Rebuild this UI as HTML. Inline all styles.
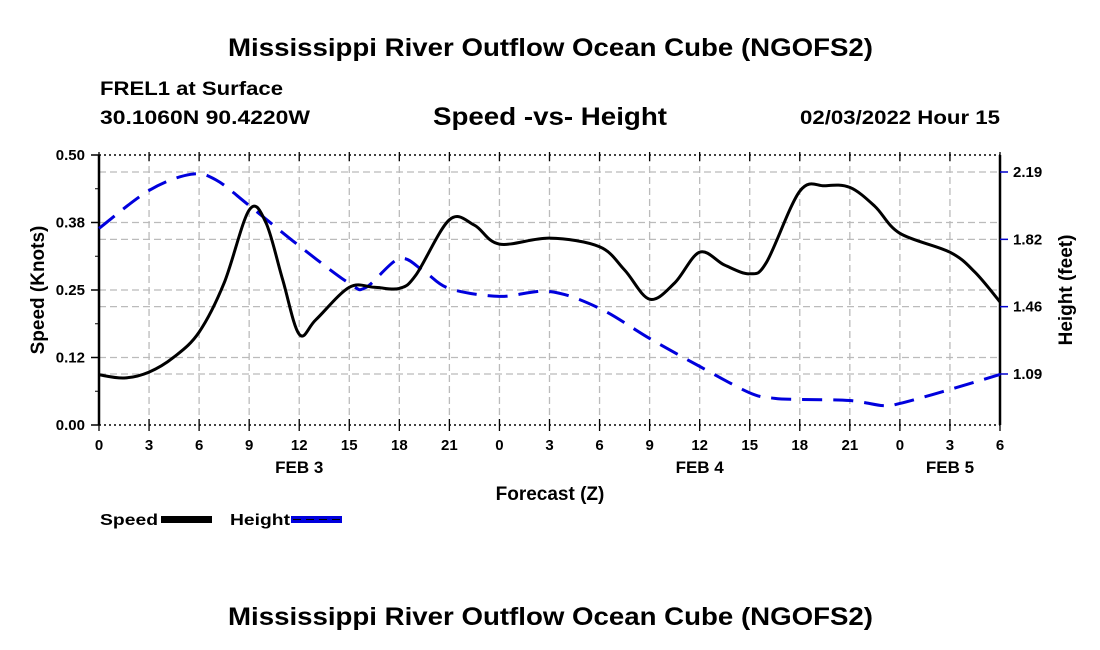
<!DOCTYPE html>
<html><head><meta charset="utf-8"><style>
html,body{margin:0;padding:0;background:#fff;width:1100px;height:650px;overflow:hidden}
svg text{font-family:"Liberation Sans",sans-serif;font-weight:bold;fill:#000}
</style></head><body>
<svg id="chart" width="1100" height="650" xmlns="http://www.w3.org/2000/svg">
<text x="228" y="56" font-size="25" textLength="645" lengthAdjust="spacingAndGlyphs">Mississippi River Outflow Ocean Cube (NGOFS2)</text>
<text x="100" y="95" font-size="19" textLength="183" lengthAdjust="spacingAndGlyphs">FREL1 at Surface</text>
<text x="100" y="124" font-size="19" textLength="210" lengthAdjust="spacingAndGlyphs">30.1060N  90.4220W</text>
<text x="433" y="125" font-size="25" textLength="234" lengthAdjust="spacingAndGlyphs">Speed -vs- Height</text>
<text x="800" y="124" font-size="19" textLength="200" lengthAdjust="spacingAndGlyphs">02/03/2022 Hour 15</text>
<g id="grid"></g>
<g id="axes"></g>
<g id="series"></g>
<text x="550" y="500" font-size="19" text-anchor="middle">Forecast (Z)</text>
<text transform="translate(44,290) rotate(-90)" font-size="19" text-anchor="middle">Speed (Knots)</text>
<text transform="translate(1072,290) rotate(-90)" font-size="19" text-anchor="middle">Height (feet)</text>
<g>
<text x="100" y="525" font-size="16" textLength="58" lengthAdjust="spacingAndGlyphs">Speed</text>
<rect x="161" y="516" width="51" height="7" fill="#000"/>
<text x="230" y="525" font-size="16" textLength="60" lengthAdjust="spacingAndGlyphs">Height</text>
<rect x="291" y="516" width="51" height="7" fill="#0000dd"/>
<line x1="293" y1="519.5" x2="342" y2="519.5" stroke="#000" stroke-width="1" stroke-dasharray="8,5"/>
</g>
<text x="228" y="625" font-size="25" textLength="645" lengthAdjust="spacingAndGlyphs">Mississippi River Outflow Ocean Cube (NGOFS2)</text>
</svg>
<script>
const speedHours=[0,1.5,3,4.5,6,7.5,9,10,11,12,13,15,16.5,18,19,21,22.5,24,27,30,31.5,33,34.5,36,37.5,39,40,42,43.5,45,46.5,48,51,52.5,54];
const speedValues=[0.093,0.087,0.098,0.126,0.172,0.263,0.398,0.375,0.27,0.168,0.195,0.255,0.255,0.253,0.278,0.38,0.37,0.335,0.346,0.33,0.287,0.233,0.263,0.32,0.296,0.28,0.301,0.433,0.443,0.44,0.405,0.355,0.32,0.283,0.228];
const heightHours=[0,3,5.5,7,9,12,15,16,18,19.5,21,24,27,30,33,36,39,40.5,42,45,47,48,51,54];
const heightValues=[1.885,2.092,2.18,2.15,2.01,1.79,1.586,1.564,1.72,1.65,1.558,1.515,1.542,1.45,1.286,1.134,0.99,0.96,0.954,0.948,0.92,0.932,1.008,1.09];
const xTickLabels=["0","3","6","9","12","15","18","21","0","3","6","9","12","15","18","21","0","3","6"];
const dayLabels=["FEB 3","FEB 4","FEB 5"];
const dayHours=[12,36,51];
const speedTicks=[0,0.125,0.25,0.375,0.5];
const speedTickLabels=["0.00","0.12","0.25","0.38","0.50"];
const heightTicks=[1.0925,1.4592,1.8258,2.1925];
const heightTickLabels=["1.09","1.46","1.82","2.19"];

const L=99,R=1000,T=155,B=425;
const X=h=>L+(R-L)*h/54;
const YS=v=>B-(B-T)*v/0.5;
const YH=v=>374+(1.0925-v)*(202/1.1);
const NS="http://www.w3.org/2000/svg";
function mk(tag,parent,attrs){const e=document.createElementNS(NS,tag);for(const k in attrs)e.setAttribute(k,attrs[k]);parent.appendChild(e);return e;}
const grid=document.getElementById('grid'),axes=document.getElementById('axes'),series=document.getElementById('series');
for(let i=1;i<18;i++){const l=mk('line',grid,{x1:X(i*3),x2:X(i*3),y1:T,y2:B,stroke:'#bbb','stroke-width':1.3,'stroke-dasharray':'7,4'});

}
speedTicks.slice(1,4).forEach(v=>{const l=mk('line',grid,{x1:L,x2:R,y1:YS(v),y2:YS(v),stroke:'#bbb','stroke-width':1.3,'stroke-dasharray':'7,4'});

});
heightTicks.forEach(v=>{const l=mk('line',grid,{x1:L,x2:R,y1:YH(v),y2:YH(v),stroke:'#bbb','stroke-width':1.3,'stroke-dasharray':'7,4'});

});
mk('line',axes,{x1:L,x2:L,y1:T,y2:B,stroke:'#000','stroke-width':2.5});
mk('line',axes,{x1:R,x2:R,y1:T,y2:B,stroke:'#000','stroke-width':2.5});
mk('line',axes,{x1:L,x2:R,y1:T,y2:T,stroke:'#000','stroke-width':1.5,'stroke-dasharray':'2,3'});
mk('line',axes,{x1:L,x2:R,y1:B,y2:B,stroke:'#000','stroke-width':1.5,'stroke-dasharray':'2,3'});
xTickLabels.forEach((s,i)=>{const x=X(i*3);
mk('line',axes,{x1:x,x2:x,y1:B-6,y2:B+6,stroke:'#000','stroke-width':1.3});
mk('line',axes,{x1:x,x2:x,y1:T-3,y2:T+6,stroke:'#000','stroke-width':1.3});
const t=mk('text',axes,{x:x,y:450,'font-size':15,'text-anchor':'middle'});t.textContent=s;

});
dayLabels.forEach((s,i)=>{const t=mk('text',axes,{x:X(dayHours[i]),y:473,'font-size':17,'text-anchor':'middle'});t.textContent=s;

});
speedTicks.forEach((v,i)=>{const y=YS(v);
mk('line',axes,{x1:L-8,x2:L,y1:y,y2:y,stroke:'#000','stroke-width':1.5});
const t=mk('text',axes,{x:L-14,y:y+5,'font-size':15,'text-anchor':'end'});t.textContent=speedTickLabels[i];

});
for(let i=0;i<4;i++){const y=YS(0.0625+i*0.125);mk('line',axes,{x1:L-4,x2:L,y1:y,y2:y,stroke:'#000','stroke-width':1});}
heightTicks.forEach((v,i)=>{const y=YH(v);
mk('line',axes,{x1:R,x2:R+8,y1:y,y2:y,stroke:'#0000cc','stroke-width':1.5});
const t=mk('text',axes,{x:R+13,y:y+5,'font-size':15});t.textContent=heightTickLabels[i];

});
function smooth(pts){let d='M'+pts[0][0]+','+pts[0][1];
for(let i=0;i<pts.length-1;i++){const p0=pts[i-1]||pts[i],p1=pts[i],p2=pts[i+1],p3=pts[i+2]||p2;
d+=' C'+(p1[0]+(p2[0]-p0[0])/6)+','+(p1[1]+(p2[1]-p0[1])/6)+' '+(p2[0]-(p3[0]-p1[0])/6)+','+(p2[1]-(p3[1]-p1[1])/6)+' '+p2[0]+','+p2[1];}
return d;}
const hp=mk('path',series,{d:smooth(heightHours.map((h,i)=>[X(h),YH(heightValues[i])])),fill:'none',stroke:'#0000dd','stroke-width':3,'stroke-dasharray':'20,11'});


const sp=mk('path',series,{d:smooth(speedHours.map((h,i)=>[X(h),YS(speedValues[i])])),fill:'none',stroke:'#000','stroke-width':3});


</script>
</body></html>
